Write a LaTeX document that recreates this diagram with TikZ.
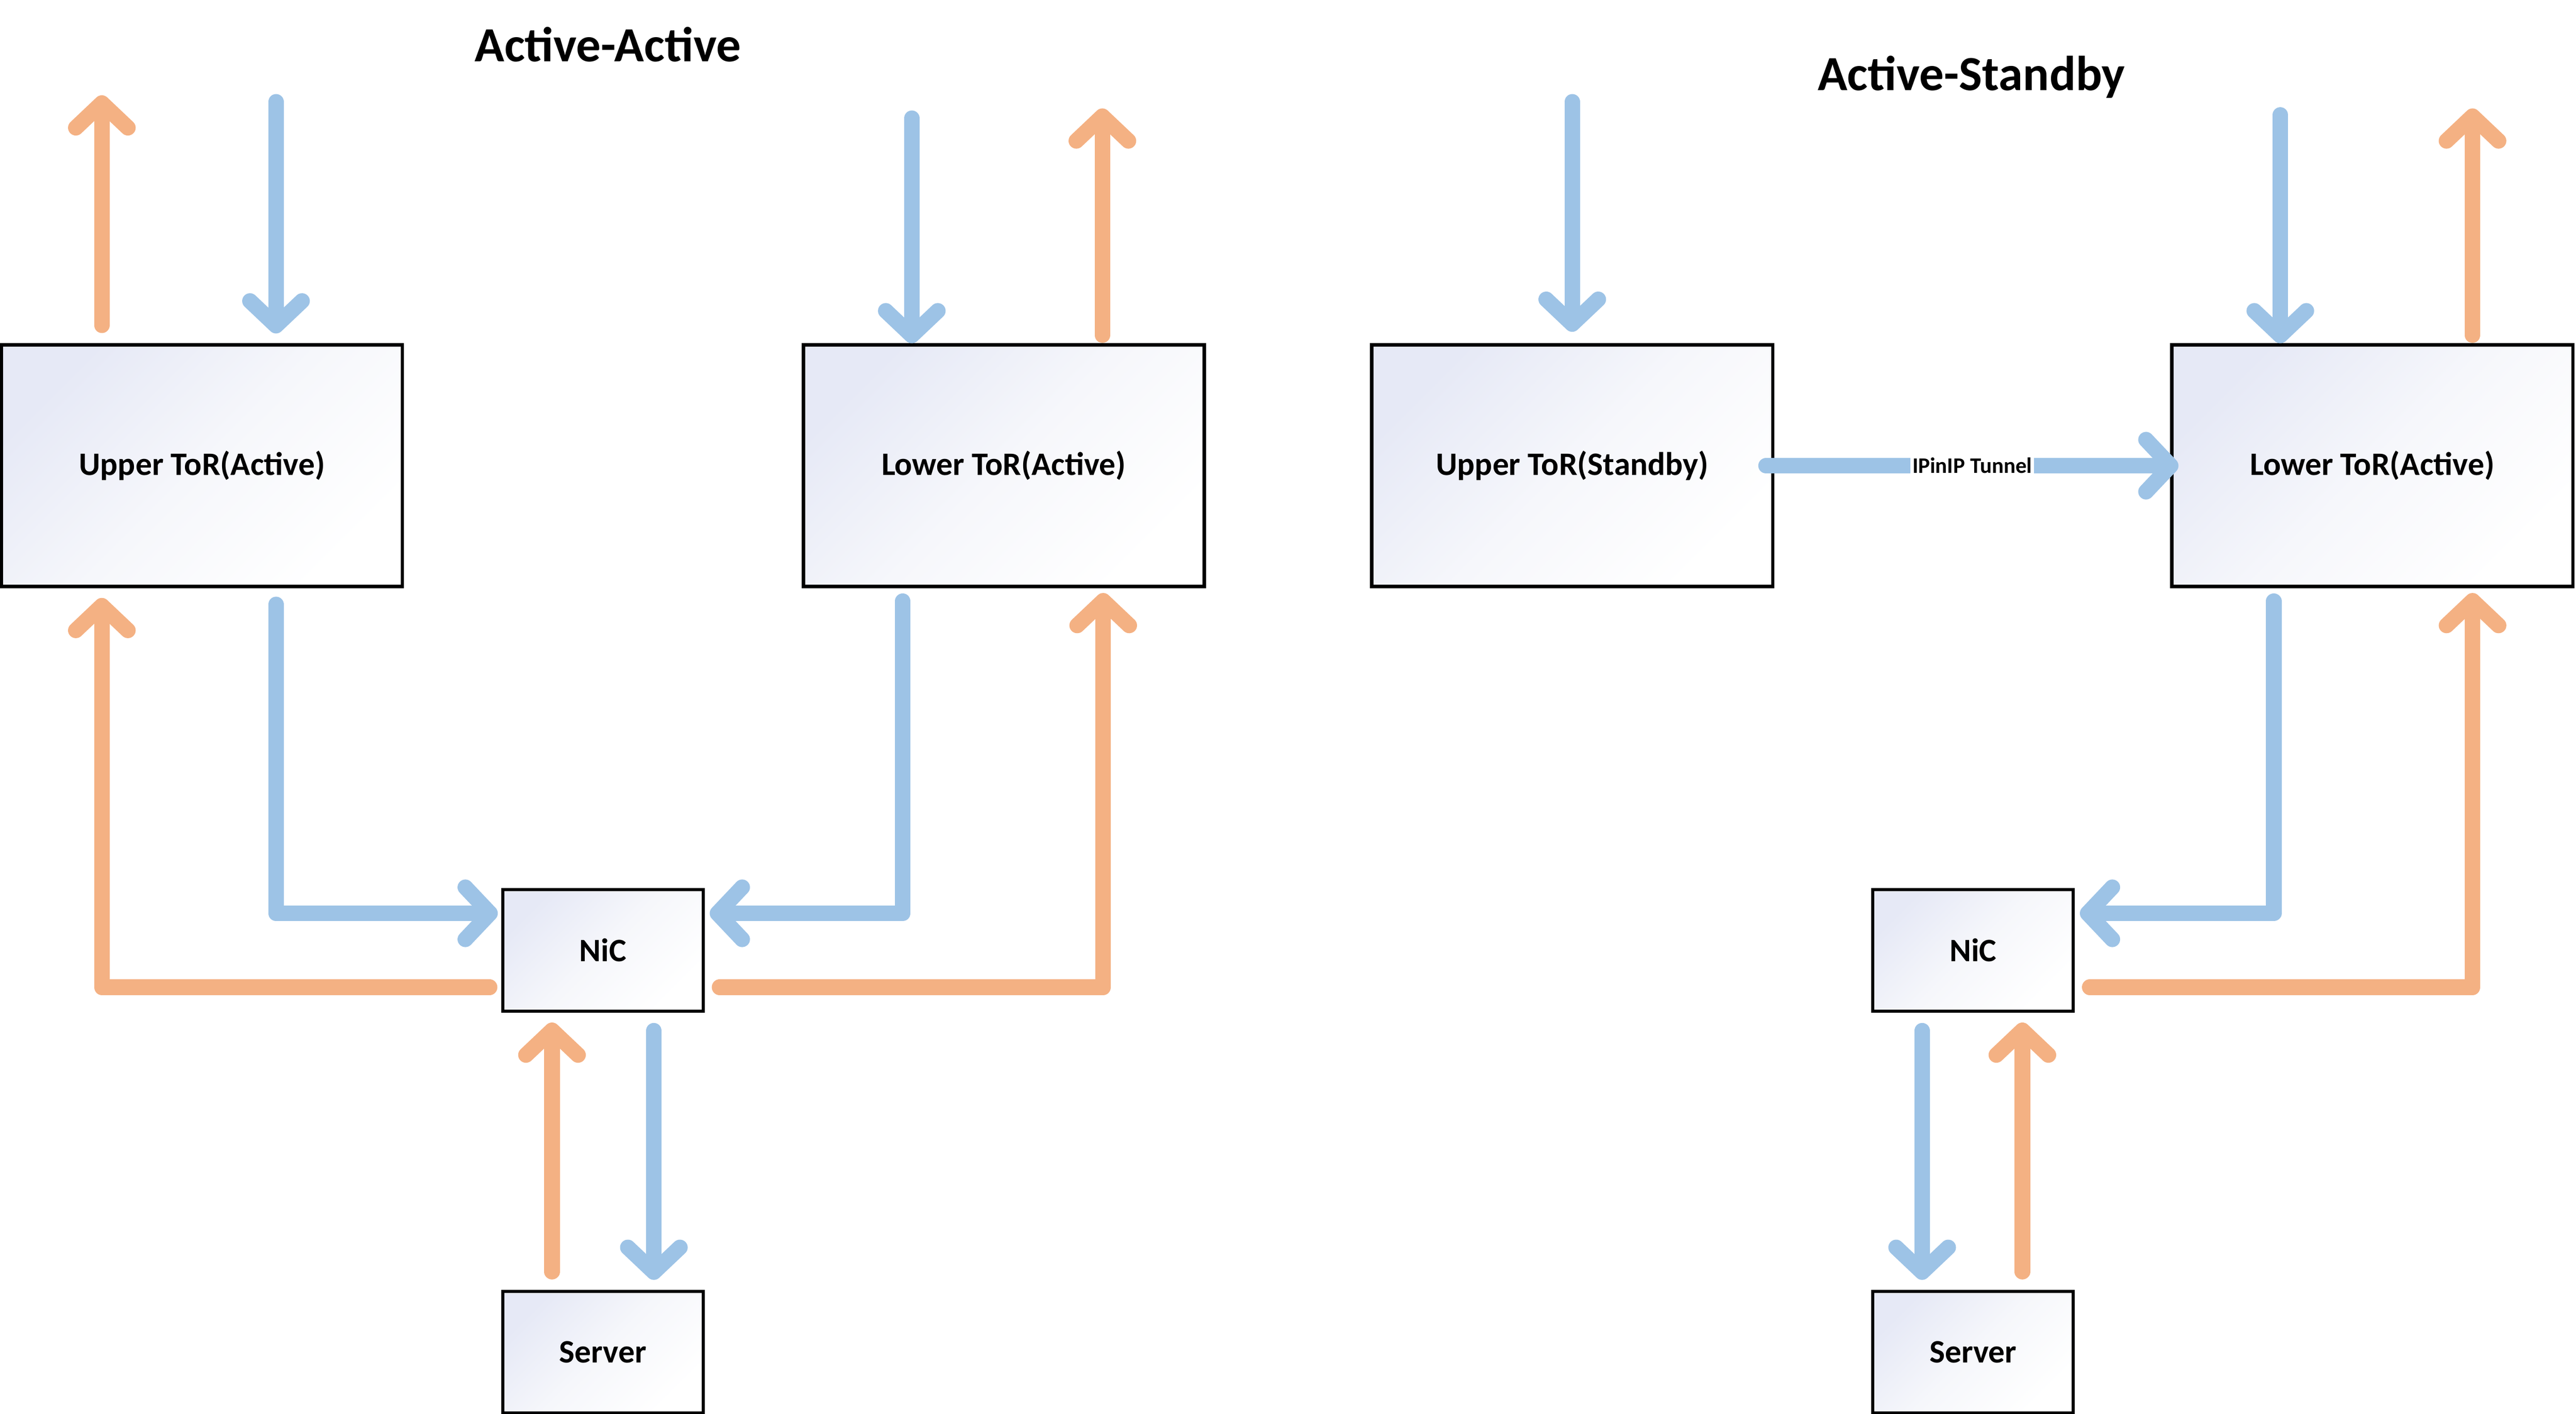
\documentclass[tikz,border=0pt]{standalone}
\usepackage{fontspec}
\setmainfont{Carlito}
\usepackage{xcolor}
\usepackage{tikz}
\usetikzlibrary{positioning, arrows.meta}

\definecolor{flowblue}{RGB}{157,195,230}
\definecolor{floworange}{RGB}{244,177,131}
\definecolor{boxtint}{RGB}{230,233,246}
\definecolor{boxmid}{RGB}{246,247,251}

\begin{document}
\begin{tikzpicture}[
    x=0.03cm, y=-0.03cm,
    tor/.style={rectangle, draw, line width=1.7pt, top color=boxtint, bottom color=white, middle color=boxmid, shading angle=45, minimum width=7.32cm, minimum height=4.41cm, inner sep=0pt, font=\fontsize{17}{20}\selectfont\bfseries},
    smallbox/.style={tor, minimum width=3.66cm, minimum height=2.22cm},
    heading/.style={font=\fontsize{25.5}{30}\selectfont\bfseries},
    flow/.style={line width=0.285cm, line cap=round, line join=round, -{Straight Barb[length=0.45cm, width=0.95cm, round]}},
    blueflow/.style={flow, draw=flowblue},
    orangeflow/.style={flow, draw=floworange},
    tunnel/.style={fill=white, inner sep=1pt, font=\fontsize{11.5}{13}\selectfont\bfseries}
]
\useasboundingbox (0,0) rectangle (1568,860.6);

% Active-Active
\node [heading] (titleA) at (370,27) {Active-Active};
\node [tor] (upA) at (123,283.5) {Upper ToR(Active)};
\node [tor, right=7.26cm of upA] (loA) {Lower ToR(Active)};
\node [smallbox] (nicA) at (367,578.5) {NiC};
\node [smallbox, below=5.06cm of nicA] (srvA) {Server};

\coordinate (upAout) at (62,58);
\coordinate (upAin) at (168,62);
\coordinate (loAin) at (555,72);
\coordinate (loAout) at (671,66);

\draw [orangeflow, shorten <=0.33cm] (upA.north -| upAout) -- (upAout);
\draw [blueflow, shorten >=0.18cm] (upAin) -- (upA.north -| upAin);
\draw [blueflow] (loAin) -- (loA.north -| loAin);
\draw [orangeflow, shorten <=0.15cm] (loA.north -| loAout) -- (loAout);

\draw [blueflow, shorten <=0.3cm, shorten >=0.06cm] ([xshift=1.35cm]upA.south) |- ([yshift=0.675cm]nicA.west);
\draw [orangeflow, shorten <=0.21cm, shorten >=0.18cm] ([yshift=-0.675cm]nicA.west) -| ([xshift=-1.83cm]upA.south);
\draw [blueflow, shorten <=0.24cm, shorten >=0.09cm] ([xshift=-1.845cm]loA.south) |- ([yshift=0.675cm]nicA.east);
\draw [orangeflow, shorten <=0.27cm, shorten >=0.09cm] ([yshift=-0.675cm]nicA.east) -| ([xshift=1.815cm]loA.south);
\draw [orangeflow, shorten <=0.33cm, shorten >=0.18cm] ([xshift=-0.93cm]srvA.north) -- ([xshift=-0.93cm]nicA.south);
\draw [blueflow, shorten <=0.33cm, shorten >=0.18cm] ([xshift=0.93cm]nicA.south) -- ([xshift=0.93cm]srvA.north);

% Active-Standby
\node [heading] (titleS) at (1200,47) {Active-Standby};
\node [tor] (upS) at (957,283.5) {Upper ToR(Standby)};
\node [tor, right=7.23cm of upS] (loS) {Lower ToR(Active)};
\node [smallbox] (nicS) at (1201,578.5) {NiC};
\node [smallbox, below=5.06cm of nicS] (srvS) {Server};

\coordinate (upSin) at (957,62);
\coordinate (loSin) at (1388,70);
\coordinate (loSout) at (1505,66);

\draw [blueflow, shorten >=0.21cm] (upSin) -- (upS.north);
\draw [blueflow] (loSin) -- (loS.north -| loSin);
\draw [orangeflow, shorten <=0.15cm] (loS.north -| loSout) -- (loSout);
\draw [blueflow, shorten <=-0.15cm, shorten >=-0.15cm] (upS.east) -- node [tunnel] {IPinIP Tunnel} (loS.west);

\draw [blueflow, shorten <=0.24cm, shorten >=0.09cm] ([xshift=-1.8cm]loS.south) |- ([yshift=0.675cm]nicS.east);
\draw [orangeflow, shorten <=0.27cm, shorten >=0.09cm] ([yshift=-0.675cm]nicS.east) -| ([xshift=1.83cm]loS.south);
\draw [blueflow, shorten <=0.33cm, shorten >=0.18cm] ([xshift=-0.93cm]nicS.south) -- ([xshift=-0.93cm]srvS.north);
\draw [orangeflow, shorten <=0.33cm, shorten >=0.18cm] ([xshift=0.9cm]srvS.north) -- ([xshift=0.9cm]nicS.south);

\end{tikzpicture}
\end{document}
